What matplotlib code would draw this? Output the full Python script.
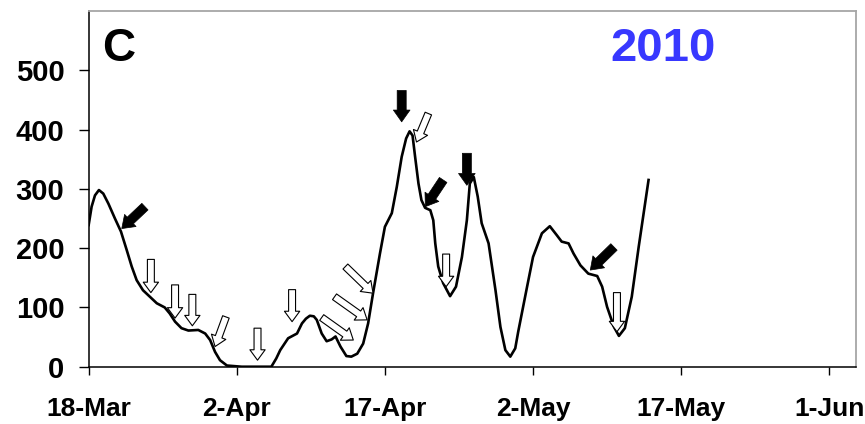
import matplotlib
matplotlib.use('Agg')
import matplotlib.pyplot as plt

plt.rcParams['font.family'] = ['Liberation Sans', 'DejaVu Sans']

# -------------------------
# Data (days after 18-Mar-2010)
# -------------------------
days = [0.0, 0.3, 0.64, 1.04, 1.48, 2.0, 2.66, 3.27, 3.85, 4.36, 4.86, 5.5,
        6.2, 6.9, 7.7, 8.2, 8.75, 9.4, 10.1, 11.1, 11.8, 12.3, 12.8, 13.3,
        14.0, 15.5, 17.0, 18.5, 19.0, 19.4, 20.2, 21.1, 21.6, 22.0, 22.4,
        22.8, 23.1, 23.6, 24.1, 24.6, 25.0, 25.5, 26.1, 26.6, 27.2, 27.8,
        28.3, 28.8, 29.5, 30.0, 30.7, 31.2, 31.7, 32.15, 32.5, 32.8, 33.06,
        33.4, 33.7, 34.07, 34.6, 34.9, 35.1, 35.4, 35.9, 36.6, 37.2, 37.8,
        38.3, 38.6, 39.0, 39.4, 39.8, 40.5, 41.2, 41.7, 42.2, 42.7, 43.2,
        43.5, 44.4, 45.0, 45.9, 46.7, 47.4, 47.9, 48.6, 49.1, 49.8, 50.6,
        51.5, 52.0, 52.5, 53.2, 53.7, 54.3, 55.0, 55.7, 56.7]
counts = [239, 270, 289, 298, 292, 275, 250, 228, 197, 169, 146, 129,
          118, 107, 100, 90, 76, 65, 61, 62, 56, 45, 25, 11,
          2, 0, 0, 0, 14, 28, 48, 56, 73, 81, 86,
          85, 79, 56, 43, 46, 51, 34, 18, 17, 22, 39,
          73, 124, 191, 236, 259, 303, 354, 385, 397, 390, 354,
          309, 281, 268, 264, 247, 208, 169, 141, 119, 135, 185,
          247, 309, 320, 287, 242, 208, 129, 67, 28, 17, 31,
          59, 135, 185, 225, 237, 222, 211, 208, 191, 171, 157,
          153, 135, 101, 67, 52, 65, 118, 202, 315]

tick_days = [0, 15, 30, 45, 60, 75]
tick_labels = ['18-Mar', '2-Apr', '17-Apr', '2-May', '17-May', '1-Jun']

# arrows: (tail_day, tail_val, tip_day, tip_val)
black_arrows = [(5.7, 270, 3.35, 233),
                (31.7, 466, 31.7, 413),
                (35.9, 315, 34.1, 270),
                (38.3, 360, 38.3, 306),
                (53.2, 202, 50.8, 163)]
white_arrows = [(6.3, 181, 6.3, 125),
                (8.75, 138, 8.75, 82),
                (10.5, 122, 10.5, 69),
                (13.9, 84, 12.8, 34),
                (17.1, 65, 17.1, 11),
                (20.6, 130, 20.6, 76),
                (23.6, 83, 26.8, 45),
                (24.9, 118, 28.2, 79),
                (26.0, 169, 28.8, 124),
                (34.4, 427, 33.2, 379),
                (36.2, 190, 36.2, 135),
                (53.5, 125, 53.5, 59)]

# -------------------------
# Plot
# -------------------------
fig = plt.figure(figsize=(8.65, 4.24), dpi=100)
ax = fig.add_axes([0.1025, 0.1351, 0.887, 0.839])

ax.plot(days, counts, color='black', lw=1.9, solid_joinstyle='round', zorder=2)

style = 'simple,head_width=1.1,head_length=0.75,tail_width=0.5'
for x0, y0, x1, y1 in white_arrows:
    ax.annotate('', xy=(x1, y1), xytext=(x0, y0),
                arrowprops=dict(arrowstyle=style, mutation_scale=10,
                                fc='white', ec='black', lw=0.8,
                                shrinkA=0, shrinkB=0), zorder=3)
for x0, y0, x1, y1 in black_arrows:
    ax.annotate('', xy=(x1, y1), xytext=(x0, y0),
                arrowprops=dict(arrowstyle='simple,head_width=1.2,head_length=0.85,tail_width=0.65',
                                mutation_scale=10, fc='black', ec='black', lw=0.5,
                                shrinkA=0, shrinkB=0), zorder=3)

ax.set_xlim(0, 77.7)
ax.set_ylim(0, 600)
ax.set_xticks(tick_days)
ax.set_xticklabels(tick_labels, fontsize=19, fontweight='bold')
ax.set_yticks(range(0, 501, 100))
ax.tick_params(axis='y', labelsize=21, length=7.5, width=1, direction='out', pad=10)
ax.tick_params(axis='x', length=6, width=1, direction='out', pad=16)
for lbl in ax.get_yticklabels():
    lbl.set_fontweight('bold')

for s in ['left', 'bottom']:
    ax.spines[s].set_color('black')
    ax.spines[s].set_linewidth(1.1)
for s in ['top', 'right']:
    ax.spines[s].set_color('#a6a6a6')
    ax.spines[s].set_linewidth(1.3)

ax.text(0.017, 0.955, 'C', transform=ax.transAxes, fontsize=33,
        fontweight='bold', va='top', ha='left')
ax.text(0.68, 0.955, '2010', transform=ax.transAxes, fontsize=34,
        fontweight='bold', color='#3838ff', va='top', ha='left')

fig.savefig('out.png', dpi=100)
